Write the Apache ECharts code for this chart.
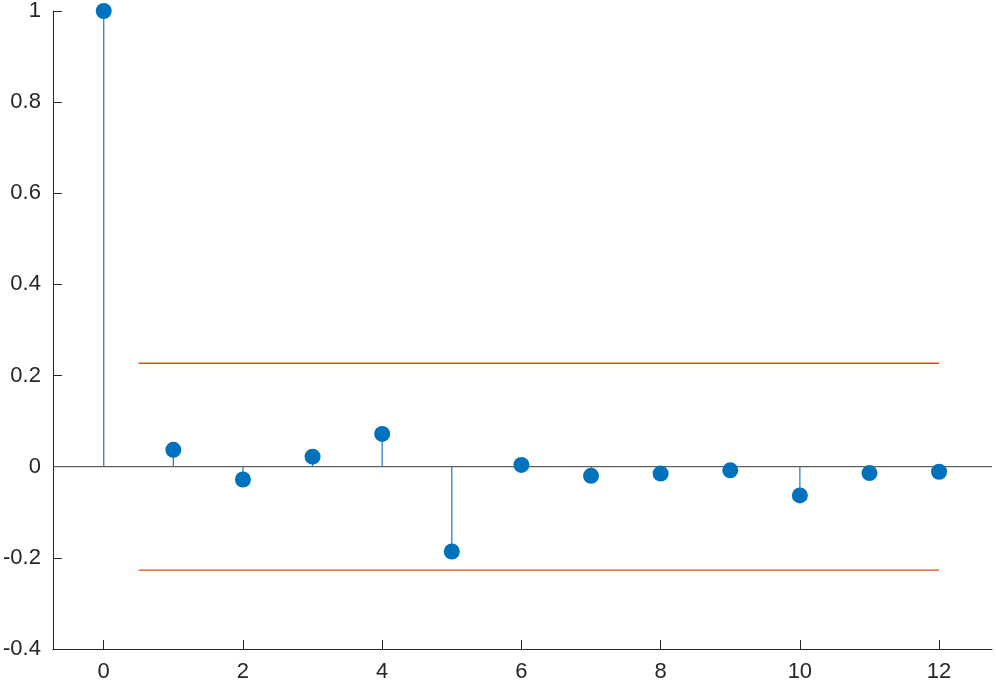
<!DOCTYPE html>
<html>
<head>
<meta charset="utf-8">
<script src="https://cdn.jsdelivr.net/npm/echarts@6/dist/echarts.min.js"></script>
<style>
html,body{margin:0;padding:0;background:#fff;}
#main{width:996px;height:688px;}
</style>
</head>
<body>
<div id="main"></div>
<script>
const lags = [0,1,2,3,4,5,6,7,8,9,10,11,12];
const acf = [1, 0.037, -0.028, 0.022, 0.072, -0.186, 0.004, -0.020, -0.015, -0.008, -0.063, -0.014, -0.011];
const boundX = [0.5, 12];
const bound = 0.227;
const xTicks = [0,2,4,6,8,10,12];

const chart = echarts.init(document.getElementById('main'), null, {renderer:'canvas'});
const textColor = '#262626';
const font = 'Liberation Sans, Arial, Helvetica, sans-serif';

chart.setOption({
  animation:false,
  grid:{left:52, right:4, top:8, bottom:39, containLabel:false},
  xAxis:{
    type:'value', min:-0.73, max:12.76,
    axisLine:{show:true, onZero:false, lineStyle:{color:textColor, width:1}},
    axisTick:{show:true, inside:true, length:9, customValues:xTicks, lineStyle:{color:textColor}},
    axisLabel:{customValues:xTicks, color:textColor, fontSize:22, fontFamily:font, margin:12},
    splitLine:{show:false}
  },
  yAxis:{
    type:'value', min:-0.4, max:1, interval:0.2,
    axisLine:{show:true, onZero:false, lineStyle:{color:textColor, width:1}},
    axisTick:{show:true, inside:true, length:9, lineStyle:{color:textColor}},
    axisLabel:{color:textColor, fontSize:22, fontFamily:font, margin:12,
      formatter:v=>{const r=Math.round(v*10)/10; return String(r);}},
    splitLine:{show:false}
  },
  series:[
    {
      type:'line', data:[[-0.73,0],[12.76,0]], symbol:'none', silent:true,
      lineStyle:{color:'#606060', width:1.3}, z:1
    },
    {
      type:'custom', z:2,
      data: lags.map((l,i)=>[l, acf[i]]),
      renderItem:(params, api)=>{
        const p0 = api.coord([api.value(0), 0]);
        const p1 = api.coord([api.value(0), api.value(1)]);
        return {type:'line', shape:{x1:p0[0], y1:p0[1], x2:p1[0], y2:p1[1]},
          style:{stroke:'#2a84c8', lineWidth:1.3}};
      }
    },
    {
      type:'scatter', z:3, data: lags.map((l,i)=>[l, acf[i]]),
      symbol:'circle', symbolSize:16, itemStyle:{color:'#0072BD', opacity:1}
    },
    {
      type:'line', data: boundX.map(x=>[x, bound]), symbol:'none',
      lineStyle:{color:'#D95319', width:1.3}, z:2
    },
    {
      type:'line', data: boundX.map(x=>[x, -bound]), symbol:'none',
      lineStyle:{color:'#D95319', width:1.3}, z:2
    }
  ]
});
</script>
</body>
</html>
